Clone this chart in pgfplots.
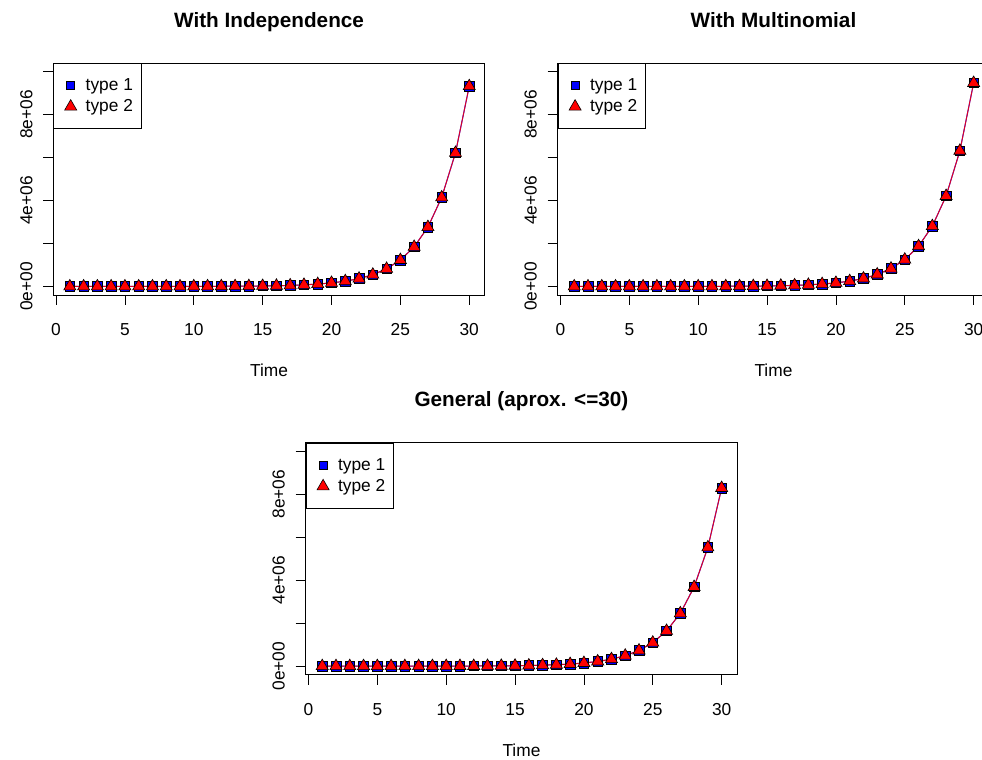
\documentclass[border=0pt]{standalone}
\usepackage{pgfplots}
\pgfplotsset{compat=1.18}
\usepackage{pgfplotstable}
\usepackage{fontspec}
\setmainfont{Liberation Sans}

% Panel 1: With Independence
\pgfplotstableread{
t a b
1 73 73
2 110 110
3 160 160
4 250 250
5 370 370
6 550 550
7 830 830
8 1250 1250
9 1870 1870
10 2800 2800
11 4200 4200
12 6300 6300
13 9500 9500
14 14200 14200
15 21300 21300
16 32000 32000
17 48000 48000
18 72000 72000
19 108000 108000
20 162000 162000
21 242000 242000
22 364000 364000
23 545000 545000
24 818000 818000
25 1227000 1227000
26 1841000 1841000
27 2761000 2761000
28 4142000 4142000
29 6213000 6213000
30 9320000 9320000
}\tabA

% Panel 2: With Multinomial
\pgfplotstableread{
t a b
1 74 74
2 110 110
3 165 165
4 250 250
5 375 375
6 560 560
7 840 840
8 1270 1270
9 1900 1900
10 2850 2850
11 4300 4300
12 6400 6400
13 9600 9600
14 14400 14400
15 21600 21600
16 32400 32400
17 49000 49000
18 73000 73000
19 109000 109000
20 164000 164000
21 246000 246000
22 369000 369000
23 554000 554000
24 831000 831000
25 1247000 1247000
26 1871000 1871000
27 2806000 2806000
28 4209000 4209000
29 6313000 6313000
30 9470000 9470000
}\tabB

% Panel 3: General
\pgfplotstableread{
t a b
1 65 65
2 97 97
3 146 146
4 220 220
5 330 330
6 490 490
7 740 740
8 1100 1100
9 1660 1660
10 2500 2500
11 3740 3740
12 5600 5600
13 8400 8400
14 12600 12600
15 18900 18900
16 28400 28400
17 42600 42600
18 64000 64000
19 96000 96000
20 144000 144000
21 216000 216000
22 323000 323000
23 485000 485000
24 728000 728000
25 1092000 1092000
26 1638000 1638000
27 2456000 2456000
28 3684000 3684000
29 5527000 5527000
30 8290000 8290000
}\tabC

\newcommand{\fnorm}{\fontsize{17.4}{20}\selectfont}
\newcommand{\ftitle}{\bfseries\fontsize{20.8}{24}\selectfont}

\pgfplotsset{
  rpanel/.style={
    scale only axis, width=431.5bp, height=232bp,
    anchor=south west,
    xmin=-0.2, xmax=31.13, ymin=-400000, ymax=10400000,
    xtick={0,5,...,30},
    ytick={0,2000000,4000000,6000000,8000000,10000000},
    yticklabels={0e+00,,4e+06,,8e+06,},
    scaled y ticks=false,
    tick align=outside, xtick pos=bottom, ytick pos=left,
    major tick length=10bp,
    tick style={black, line width=0.8bp},
    axis line style={line width=0.8bp},
    /pgf/number format/assume math mode=true,
    tick label style={font=\fnorm, inner sep=0pt},
    xticklabel style={anchor=base, yshift=-31bp},
    yticklabel style={xshift=-11bp, rotate=90, anchor=base},
    xlabel={Time},
    xlabel style={font=\fnorm, at={(axis description cs:0.5,0)}, anchor=base, yshift=-81.7bp, inner sep=0pt},
    title style={font=\ftitle, at={(axis description cs:0.5,1)}, anchor=base, yshift=29.8bp, inner sep=0pt},
    legend style={at={(axis description cs:0,1)}, anchor=north west, draw=black, line width=0.8bp,
      inner xsep=5bp, inner ysep=13bp, row sep=4bp, font=\fnorm,
      nodes={inner xsep=3bp, inner ysep=2bp}},
    legend cell align=left,
    legend image code/.code={\path[draw=none, fill=none] (0bp,-6bp) rectangle (24bp,6bp); \draw[##1, only marks] plot coordinates {(12bp,0bp)};},
  },
  sqmark/.style={only marks, mark=square*, mark size=4.8bp, mark options={fill=blue, draw=black, line width=0.6bp}},
  trmark/.style={only marks, mark=triangle*, mark size=7bp, mark options={fill=red, draw=black, line width=0.6bp}},
  lgsq/.style={only marks, mark=square*, mark size=4bp, mark options={fill=blue, draw=black, line width=0.5bp}},
  lgtr/.style={only marks, mark=triangle*, mark size=7bp, mark options={fill=red, draw=black, line width=0.6bp}},
}

\newcommand{\drawpanel}[1]{%
  \addlegendimage{lgsq}\addlegendentry{type 1}
  \addlegendimage{lgtr}\addlegendentry{type 2}
  \addplot[blue, line width=1bp, forget plot] table[x=t,y=a]{#1};
  \addplot[sqmark, forget plot] table[x=t,y=a]{#1};
  \addplot[red, opacity=0.85, line width=1bp, forget plot] table[x=t,y=b]{#1};
  \addplot[trmark, forget plot] table[x=t,y=b]{#1};
}

\begin{document}
\begin{tikzpicture}
\useasboundingbox (0,0) rectangle (982bp,760bp);
\begin{axis}[rpanel, at={(53.3bp,465bp)}, title={With Independence}]
\drawpanel{\tabA}
\end{axis}
\begin{axis}[rpanel, at={(557.7bp,465bp)}, title={With Multinomial}]
\drawpanel{\tabB}
\end{axis}
\begin{axis}[rpanel, at={(305.7bp,85.3bp)}, title={General (aprox. <=30)}]
\drawpanel{\tabC}
\end{axis}
\end{tikzpicture}
\end{document}
